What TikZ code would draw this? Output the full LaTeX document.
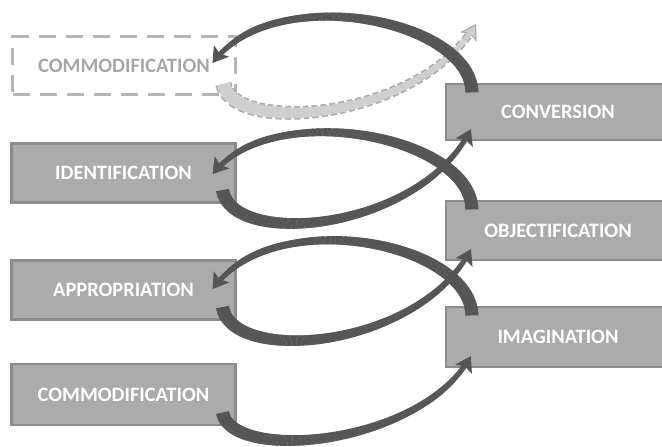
\documentclass[tikz,border=0pt]{standalone}
\usepackage{fontspec}
\setmainfont{Carlito}
\usetikzlibrary{arrows.meta,decorations.markings,calc}
\definecolor{boxfill}{HTML}{ABABAB}
\definecolor{boxedge}{HTML}{8C8C8C}
\definecolor{arrdark}{HTML}{555555}
\definecolor{dashedge}{HTML}{B5B5B5}
\definecolor{dashtext}{HTML}{A6A6A6}
\definecolor{bout}{HTML}{ABABAB}
\definecolor{bin}{HTML}{CFCFCF}
\tikzset{
  box/.style={draw=boxedge, line width=2.2bp, fill=boxfill, minimum height=59bp,
    inner sep=0pt, text=white, font=\bfseries\fontsize{20.5}{22}\selectfont},
  lbox/.style={box, minimum width=224bp},
  rbox/.style={box, minimum width=220bp},
  ghostbox/.style={draw=dashedge, line width=3bp, dash pattern=on 17bp off 10bp,
    minimum width=222bp, minimum height=58bp, inner sep=0pt, text=dashtext,
    font=\bfseries\fontsize{20.5}{22}\selectfont},
  flow/.style={arrdark, line width=1bp, -{Stealth[length=15bp,width=19bp,inset=3bp]},
    postaction={decorate, decoration={markings,
      mark=between positions 0 and -11bp step 0.7bp with {%
        \pgfmathsetmacro\rr{6.5-4.3*(\pgfkeysvalueof{/pgf/decoration/mark info/distance from start})/(\pgfdecoratedpathlength)}%
        \fill[arrdark] (-0.55bp,-\rr bp) rectangle (0.55bp,\rr bp);}}}},
  ghostflow/.style={bout, line width=1.2bp, -{Stealth[length=15bp,width=19bp,inset=3bp,fill=bin]},
    postaction={decorate, decoration={markings,
      mark=between positions 0 and -15bp step 0.7bp with {%
        \pgfmathsetmacro\dd{\pgfkeysvalueof{/pgf/decoration/mark info/distance from start}}%
        \pgfmathsetmacro\rr{8-4.3*\dd/(\pgfdecoratedpathlength)}%
        \pgfmathparse{mod(\dd,9)<5.5 ? 1 : 0}%
        \ifnum\pgfmathresult=1 \fill[bout] (-0.55bp,-\rr bp) rectangle (0.55bp,\rr bp);\fi}}},
    postaction={decorate, decoration={markings,
      mark=between positions 0 and -11bp step 0.7bp with {%
        \pgfmathsetmacro\rr{6.4-4.3*(\pgfkeysvalueof{/pgf/decoration/mark info/distance from start})/(\pgfdecoratedpathlength)}%
        \fill[bin] (-0.55bp,-\rr bp) rectangle (0.55bp,\rr bp);}}}}
}
\begin{document}
\begin{tikzpicture}[x=1bp,y=-1bp]
\path[use as bounding box] (0,0) rectangle (662,447);
% boxes
\node[ghostbox] (ghost) at (124,66) {COMMODIFICATION};
\node[rbox, minimum height=56bp] (conv) at (556,112) {\hspace*{4bp}CONVERSION};
\node[lbox] (ident) at (123.5,173) {IDENTIFICATION};
\node[rbox] (obj) at (556,230.5) {\hspace*{4bp}OBJECTIFICATION};
\node[lbox] (approp) at (123.5,290) {APPROPRIATION};
\node[rbox, minimum height=60bp] (imag) at (556,337) {\hspace*{4bp}IMAGINATION};
\node[lbox, minimum height=61bp] (commod) at (123.5,394.5) {COMMODIFICATION};
% free end of the ghost arrow
\coordinate (gtip) at (476,24);
% ghost arrow
\draw[ghostflow] ($(ghost.south east)+(-13,-12)$) .. controls (235,135) and (420,120) .. (gtip);
% conversion -> ghost commodification
\draw[flow] ($(conv.north west)+(27,9)$) .. controls (470,20) and (275,-20) .. ($(ghost.east)+(-24,-3)$);
% objectification -> identification
\draw[flow] ($(obj.north west)+(27,9)$) .. controls (470,137) and (275,97) .. ($(ident.east)+(-24,1)$);
% identification -> conversion
\draw[flow] ($(ident.south east)+(-14,-13)$) .. controls (233,248) and (420,232) .. ($(conv.south west)+(26,-12)$);
% imagination -> appropriation
\draw[flow] ($(imag.north west)+(27,9)$) .. controls (470,243) and (275,203) .. ($(approp.east)+(-24,-1)$);
% appropriation -> objectification
\draw[flow] ($(approp.south east)+(-14,-13)$) .. controls (233,365) and (420,349) .. ($(obj.south west)+(26,-12)$);
% commodification -> imagination
\draw[flow] ($(commod.south east)+(-14,-13)$) .. controls (233,462) and (420,447) .. ($(imag.south west)+(26,-12)$);
\end{tikzpicture}
\end{document}
